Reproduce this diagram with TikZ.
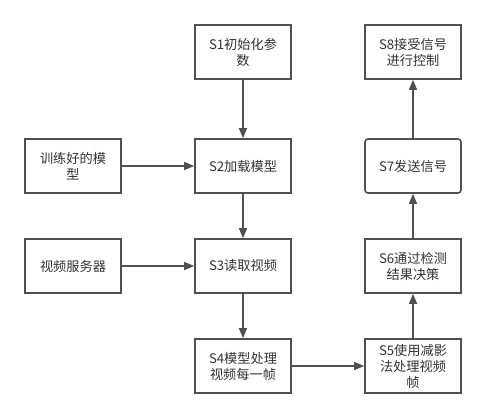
\documentclass[tikz,border=0pt]{standalone}
\usepackage{fontspec}
\setmainfont{Noto Sans CJK SC}
\usetikzlibrary{arrows.meta}
\definecolor{edge}{HTML}{505050}
\definecolor{txt}{HTML}{333333}
\begin{document}
\begin{tikzpicture}[x=1pt,y=-1pt,
  box/.style={draw=edge,line width=1.6pt,minimum width=96pt,minimum height=54pt,inner sep=0pt,align=center,font=\fontsize{13.2pt}{16pt}\selectfont,text=txt},
  rbox/.style={box,rounded corners=3pt},
  arr/.style={draw=edge,line width=1.4pt,-{Triangle[length=10pt,width=8pt]}}]
\useasboundingbox (0,0) rectangle (486,418);
\node[box] (s1) at (243,52) {S1初始化参\\数};
\node[box] (s8) at (413,52) {S8接受信号\\进行控制};
\node[box] (tm) at (73,166) {训练好的模\\型};
\node[box] (s2) at (243,166) {S2加载模型};
\node[rbox] (s7) at (413,166) {S7发送信号};
\node[box] (vs) at (73,266) {视频服务器};
\node[box] (s3) at (243,266) {S3读取视频};
\node[box] (s6) at (413,266) {S6通过检测\\结果决策};
\node[box] (s4) at (243,366) {S4模型处理\\视频每一帧};
\node[box] (s5) at (413,366) {S5使用减影\\法处理视频\\帧};
\draw[arr] (s1) -- (s2);
\draw[arr] (tm) -- (s2);
\draw[arr] (s2) -- (s3);
\draw[arr] (vs) -- (s3);
\draw[arr] (s3) -- (s4);
\draw[arr] (s4) -- (s5);
\draw[arr] (s5) -- (s6);
\draw[arr] (s6) -- (s7);
\draw[arr] (s7) -- (s8);
\end{tikzpicture}
\end{document}
